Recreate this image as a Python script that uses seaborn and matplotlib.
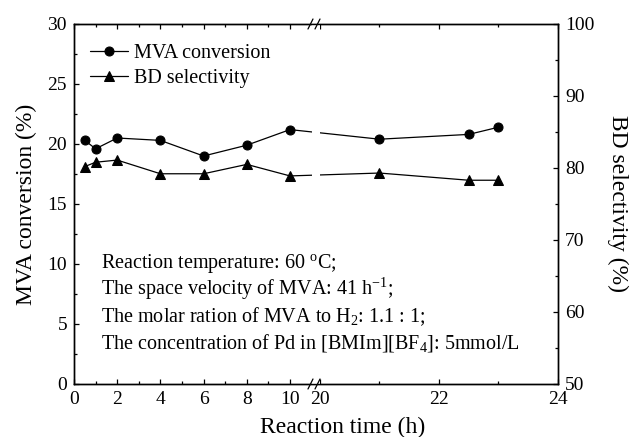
import numpy as np
import matplotlib
matplotlib.use("Agg")
import matplotlib.pyplot as plt
import seaborn as sns
from matplotlib.ticker import FixedLocator, FixedFormatter, MultipleLocator
from matplotlib.patches import Rectangle

# data
time_h = [0.5, 1, 2, 4, 6, 8, 10, 21, 22.5, 23]
mva_conversion = [20.3, 19.6, 20.5, 20.3, 19.0, 19.9, 21.2, 20.4, 20.8, 21.4]
bd_selectivity = [80.2, 80.8, 81.1, 79.2, 79.2, 80.5, 78.9, 79.3, 78.3, 78.3]
x_major = [0, 2, 4, 6, 8, 10, 20, 22, 24]
x_minor = [1, 3, 5, 7, 9, 21, 23]
notes = [
    r"Reaction temperature: 60 $^{\mathrm{o}}$C;",
    r"The space velocity of MVA: 41 h$^{\mathrm{-1}}$;",
    r"The molar ration of MVA to H$_{\mathrm{2}}$: 1.1 : 1;",
    r"The concentration of Pd in [BMIm][BF$_{\mathrm{4}}$]: 5mmol/L",
]

sns.set_theme(style="ticks")
plt.rcParams['font.family'] = ['Liberation Serif', 'DejaVu Serif']
plt.rcParams['mathtext.fontset'] = 'custom'
plt.rcParams['mathtext.rm'] = 'Liberation Serif'
plt.rcParams['mathtext.it'] = 'Liberation Serif:italic'
for key in ['text.color', 'axes.labelcolor', 'xtick.color', 'ytick.color',
            'xtick.labelcolor', 'ytick.labelcolor', 'axes.edgecolor']:
    plt.rcParams[key] = 'black'

# broken x axis: 0-11 then 20-24 stretched
T20 = 11.389
K = 2.755


def fwd(x):
    x = np.asarray(x, dtype=float)
    return np.where(x <= 11, x,
                    np.where(x >= 20, T20 + (x - 20) * K,
                             11 + (x - 11) * (T20 - 11) / 9))


def inv(t):
    t = np.asarray(t, dtype=float)
    return np.where(t <= 11, t,
                    np.where(t >= T20, 20 + (t - T20) / K,
                             11 + (t - 11) * 9 / (T20 - 11)))


fig = plt.figure(figsize=(6.3, 4.37), dpi=100)
ax = fig.add_axes([74 / 630, 1 - 384 / 437, 484 / 630, 360 / 437])
ax2 = ax.twinx()
ax.set_xscale('function', functions=(fwd, inv))

sns.lineplot(x=time_h, y=mva_conversion, ax=ax, color='black', marker='o',
             markersize=6.5, markeredgecolor='black', linewidth=0.9,
             label='MVA conversion', legend=False)
sns.lineplot(x=time_h, y=bd_selectivity, ax=ax2, color='black', marker='^',
             markersize=7, markeredgecolor='black', linewidth=0.9,
             label='BD selectivity', legend=False)

ax.set_xlim(0, 24)
ax.set_ylim(0, 30)
ax2.set_ylim(50, 100)
ax.xaxis.set_major_locator(FixedLocator(x_major))
ax.xaxis.set_minor_locator(FixedLocator(x_minor))
ax.xaxis.set_major_formatter(FixedFormatter([str(v) for v in x_major]))
ax.yaxis.set_major_locator(MultipleLocator(5))
ax.yaxis.set_minor_locator(MultipleLocator(2.5))
ax2.yaxis.set_major_locator(MultipleLocator(10))
ax2.yaxis.set_minor_locator(MultipleLocator(5))

for a in (ax, ax2):
    for s in a.spines.values():
        s.set_linewidth(1.0)
        s.set_color('black')
    a.tick_params(which='both', direction='in', width=0.9, colors='black',
                  labelcolor='black', labelsize=14, pad=5)
    a.tick_params(which='major', length=3.5)
    a.tick_params(which='minor', length=2.2)
    a.grid(False)
ax.tick_params(axis='x', which='both', top=True)
ax.tick_params(axis='y', which='both', right=False)

ax.set_xlabel('Reaction time (h)', fontsize=17, color='black')
ax.xaxis.set_label_coords(0.555, -0.122)
ax.xaxis.label.set_va('center')
ax.set_ylabel('MVA conversion (%)', fontsize=17, color='black')
ax.yaxis.label.set_rotation_mode('default')
ax.yaxis.label.set_va('center')
ax.yaxis.set_label_coords(-0.099, 0.5)
ax2.set_ylabel('BD selectivity (%)', fontsize=17, rotation=270, color='black')
ax2.yaxis.label.set_rotation_mode('default')
ax2.yaxis.label.set_va('center')
ax2.yaxis.set_label_coords(1.124, 0.5)

# gap in the curves at the axis break
ax2.add_patch(Rectangle((0.4917, 0), 0.0166, 1, transform=ax2.transAxes,
                        facecolor='white', edgecolor='none', zorder=2.3,
                        clip_on=False))
dx, dy = 2.5 / 484, 5 / 360
for xc in (0.4886, 0.5031):
    for yc in (0, 1):
        ax2.plot([xc - dx, xc + dx], [yc - dy, yc + dy], transform=ax2.transAxes,
                 color='black', lw=0.9, clip_on=False, zorder=3)

handles = [ax.lines[0], ax2.lines[0]]
leg = ax2.legend(handles=handles, labels=['MVA conversion', 'BD selectivity'],
                 loc='upper left', bbox_to_anchor=(0.033, 0.944), frameon=False,
                 fontsize=14.5, borderpad=0, borderaxespad=0, handlelength=1.9,
                 handletextpad=0.3, labelspacing=0.3)
for t in leg.get_texts():
    t.set_color('black')

for i, line in enumerate(notes):
    ax2.text(0.056, [0.322, 0.247, 0.172, 0.1][i], line, transform=ax2.transAxes,
             fontsize=14.5, va='baseline', ha='left', color='black')

fig.savefig('out.png', dpi=100, facecolor='white')
